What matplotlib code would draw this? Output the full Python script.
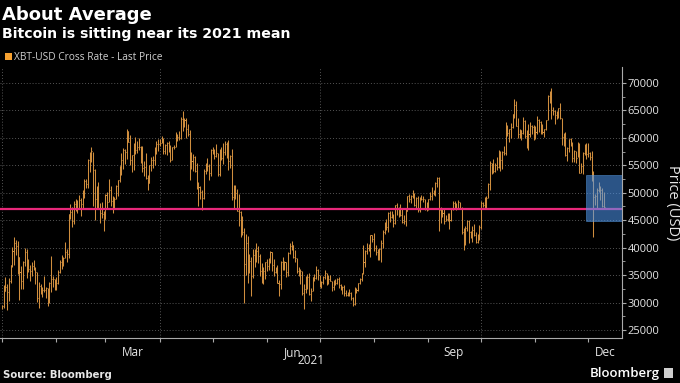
import numpy as np
import matplotlib
matplotlib.use("Agg")
import matplotlib.pyplot as plt
from matplotlib.patches import Rectangle

# XBT-USD daily bars, 1 Jan 2021 .. 10 Dec 2021, values in thousands of USD
close_k = [
    # Jan
    29.37, 32.13, 32.78, 31.97, 33.99, 36.82, 39.37, 40.80, 40.25, 38.36, 35.57, 33.92, 37.32, 39.19, 36.83, 36.18,
    35.79, 36.63, 36.07, 35.55, 30.83, 33.01, 32.07, 32.29, 32.37, 32.57, 30.43, 33.47, 34.32, 34.27, 33.12,
    # Feb
    33.54, 35.51, 37.47, 36.93, 38.14, 39.27, 38.90, 46.20, 46.48, 44.92, 47.91, 47.50, 47.11, 48.72, 47.95, 49.20,
    52.15, 51.68, 55.89, 56.10, 57.54, 54.21, 48.82, 49.71, 47.09, 46.34, 46.19, 45.14,
    # Mar
    49.63, 48.38, 50.54, 48.56, 48.93, 48.91, 51.21, 52.25, 54.82, 56.01, 57.81, 57.33, 61.24, 59.30, 55.91, 56.80,
    58.87, 57.86, 58.35, 58.31, 57.52, 54.53, 54.74, 52.77, 51.70, 55.14, 55.97, 55.95, 57.75, 58.92, 58.92,
    # Apr
    59.10, 59.38, 57.60, 58.76, 59.06, 58.19, 56.05, 58.32, 58.25, 59.79, 60.20, 59.89, 63.50, 63.11, 63.31, 61.57,
    60.68, 56.22, 55.72, 56.47, 53.91, 51.76, 51.09, 50.05, 49.00, 54.02, 55.03, 54.82, 53.56, 57.75,
    # May
    57.83, 56.63, 57.20, 53.33, 57.42, 56.40, 57.36, 58.80, 58.23, 55.86, 56.70, 49.15, 49.72, 49.88, 46.76, 46.46,
    43.54, 42.91, 37.00, 40.78, 37.30, 37.54, 34.77, 38.71, 38.40, 39.30, 38.44, 35.70, 34.62, 35.68, 37.33,
    # Jun
    36.68, 37.58, 39.19, 36.85, 35.52, 35.80, 33.55, 33.40, 37.35, 36.70, 37.33, 35.55, 39.10, 40.22, 40.41, 38.35,
    38.05, 35.79, 35.62, 35.70, 31.68, 32.51, 33.72, 34.66, 31.64, 32.19, 34.65, 34.50, 35.91, 35.05,
    # Jul
    33.50, 33.79, 34.67, 35.29, 33.75, 34.24, 33.86, 32.88, 33.80, 33.52, 34.24, 33.16, 32.70, 32.82, 31.78, 31.42,
    31.53, 31.80, 30.82, 29.81, 32.11, 32.31, 33.58, 34.29, 35.35, 37.34, 39.41, 40.00, 40.01, 42.24, 41.63,
    # Aug
    39.97, 39.20, 38.15, 39.75, 40.87, 42.82, 44.56, 43.80, 46.37, 45.59, 45.59, 44.43, 47.79, 47.10, 47.05, 46.00,
    44.70, 44.80, 46.72, 49.34, 48.91, 49.32, 49.55, 47.71, 48.96, 46.94, 49.06, 48.90, 48.83, 47.05, 47.17,
    # Sep
    48.85, 49.33, 50.03, 49.94, 51.75, 52.63, 46.81, 46.09, 46.39, 44.88, 45.20, 46.06, 44.96, 47.09, 48.18, 47.78,
    47.27, 48.28, 47.26, 42.84, 40.69, 43.57, 44.90, 42.84, 42.72, 43.21, 42.24, 41.03, 41.56, 43.79,
    # Oct
    48.12, 47.71, 48.20, 49.11, 51.51, 55.36, 53.81, 53.97, 54.97, 54.77, 57.48, 56.04, 57.40, 57.32, 61.59, 60.89,
    61.55, 62.03, 64.26, 65.99, 62.21, 60.69, 61.39, 60.93, 63.04, 60.36, 58.48, 60.62, 62.23, 61.89, 61.32,
    # Nov
    61.00, 63.23, 62.97, 61.45, 61.13, 61.53, 63.33, 67.57, 66.97, 65.00, 64.95, 64.16, 64.47, 65.47, 63.56, 60.16,
    60.37, 56.94, 58.12, 59.70, 58.73, 56.29, 57.57, 56.28, 57.27, 53.57, 54.82, 57.25, 57.81, 57.00,
    # Dec
    57.23, 56.48, 53.60, 49.25, 49.37, 50.58, 50.70, 50.50, 47.67, 47.40,
]

high_k = [
    29.60, 33.16, 34.61, 33.44, 34.44, 36.88, 40.18, 41.95, 41.37, 41.29, 38.26, 36.57, 37.60, 40.00, 39.70, 37.89,
    36.79, 37.30, 37.76, 36.42, 35.55, 33.78, 33.41, 32.90, 34.80, 32.79, 32.56, 33.78, 38.41, 34.83, 34.29,
    34.64, 35.87, 37.66, 38.59, 38.31, 40.96, 39.70, 46.20, 48.00, 47.33, 48.43, 48.90, 48.70, 49.64, 49.00, 50.51,
    52.53, 52.47, 56.18, 57.49, 58.35, 57.49, 54.25, 51.31, 51.91, 48.09, 48.24, 46.62,
    49.78, 50.13, 52.54, 51.27, 49.43, 49.18, 51.38, 52.36, 54.90, 57.26, 58.06, 58.00, 61.68, 61.24, 60.48, 56.91,
    58.98, 60.07, 59.47, 59.88, 58.60, 58.42, 55.80, 57.15, 53.30, 55.14, 56.57, 56.61, 58.40, 59.35, 59.70,
    59.77, 60.26, 59.90, 58.92, 59.26, 59.43, 58.63, 58.36, 58.72, 61.03, 60.64, 61.19, 63.77, 64.86, 63.67, 63.56,
    62.57, 61.39, 57.50, 57.01, 56.71, 55.40, 51.90, 51.17, 50.54, 54.36, 55.39, 56.36, 55.18, 57.88,
    58.40, 57.90, 58.93, 57.20, 57.90, 58.33, 59.00, 59.46, 59.21, 59.55, 56.90, 57.94, 51.33, 51.44, 50.69, 49.79,
    46.66, 45.80, 43.55, 42.46, 42.17, 38.83, 38.27, 39.84, 39.74, 40.78, 40.38, 38.86, 37.24, 36.40, 37.47,
    37.86, 38.19, 39.41, 39.23, 37.87, 36.44, 36.75, 34.02, 37.53, 38.31, 37.63, 37.38, 39.23, 40.93, 41.28, 40.48,
    39.48, 38.19, 36.42, 36.06, 35.70, 33.30, 34.76, 35.25, 35.46, 32.62, 34.70, 35.25, 36.60, 36.07,
    35.05, 33.94, 34.92, 35.91, 35.29, 35.02, 35.03, 33.90, 34.04, 34.22, 34.54, 34.57, 33.32, 33.07, 33.16, 32.23,
    31.93, 32.43, 31.86, 31.05, 32.79, 32.57, 33.58, 34.49, 35.40, 40.55, 39.51, 40.87, 40.61, 42.29, 42.38,
    42.60, 40.40, 39.78, 39.95, 41.40, 43.27, 44.70, 45.30, 46.46, 46.64, 46.74, 46.19, 47.80, 48.09, 47.32, 47.97,
    47.09, 46.00, 47.02, 49.35, 49.74, 49.51, 50.48, 49.86, 49.24, 49.34, 49.15, 49.63, 49.33, 48.88, 48.30,
    48.85, 50.20, 51.03, 50.52, 51.88, 52.85, 52.92, 47.34, 47.29, 47.05, 45.88, 46.30, 46.38, 47.22, 48.45, 48.45,
    48.12, 48.75, 48.33, 47.33, 43.60, 44.01, 44.97, 45.05, 42.98, 43.92, 44.35, 42.79, 42.55, 44.10,
    48.44, 48.33, 49.17, 49.46, 51.84, 55.71, 55.39, 56.12, 55.46, 56.52, 57.80, 57.60, 57.62, 58.48, 62.88, 62.30,
    61.59, 62.65, 64.43, 67.02, 66.64, 63.67, 61.56, 61.49, 63.71, 63.29, 61.45, 62.45, 62.92, 62.27, 62.40,
    62.21, 64.06, 63.42, 63.03, 62.45, 61.55, 63.33, 67.75, 68.53, 69.00, 65.57, 65.00, 64.91, 65.47, 66.28, 63.56,
    60.80, 60.98, 58.33, 59.80, 60.00, 59.26, 57.87, 57.60, 59.25, 59.06, 55.35, 57.38, 58.84, 59.12,
    59.05, 57.37, 57.60, 53.88, 49.70, 50.93, 51.94, 51.14, 50.78, 50.10,
]

low_k = [
    28.80, 29.09, 32.05, 28.72, 30.22, 33.51, 36.49, 36.83, 38.65, 35.12, 30.42, 32.53, 32.38, 36.70, 34.41, 35.50,
    33.85, 34.80, 35.90, 33.41, 30.07, 28.95, 31.47, 31.00, 31.97, 30.84, 29.28, 29.85, 31.99, 32.84, 32.34,
    32.30, 33.42, 35.40, 36.16, 36.62, 38.14, 37.45, 38.10, 45.17, 43.73, 44.39, 46.74, 46.26, 47.05, 45.79, 47.18,
    48.97, 50.82, 50.88, 53.86, 55.62, 47.61, 45.00, 47.13, 47.09, 44.45, 45.33, 43.02,
    45.14, 47.25, 48.30, 47.53, 46.30, 47.17, 48.92, 49.36, 51.89, 53.29, 54.29, 55.15, 56.18, 59.15, 55.00, 53.82,
    54.16, 57.10, 57.20, 57.83, 55.50, 53.75, 53.00, 52.56, 50.43, 51.71, 53.98, 54.50, 55.01, 57.13, 57.61,
    58.43, 58.97, 57.11, 57.06, 56.79, 57.49, 55.62, 55.96, 57.98, 58.26, 59.42, 59.60, 59.87, 61.30, 62.04, 60.00,
    60.30, 52.23, 54.28, 54.00, 53.81, 50.61, 47.50, 48.80, 46.93, 48.80, 53.32, 53.96, 52.40, 53.05,
    57.06, 56.06, 56.48, 53.08, 52.97, 55.87, 55.28, 56.94, 56.25, 54.05, 54.42, 48.64, 46.98, 48.91, 46.64, 43.95,
    42.00, 42.30, 30.00, 35.05, 33.49, 35.38, 31.19, 34.55, 36.53, 37.35, 37.25, 34.78, 33.63, 33.42, 34.21,
    35.73, 35.97, 37.19, 35.68, 34.86, 35.30, 33.48, 31.11, 32.43, 35.87, 35.96, 34.63, 34.86, 38.79, 39.57, 38.16,
    37.44, 35.29, 34.86, 33.44, 31.30, 28.80, 31.74, 32.44, 31.30, 30.20, 32.10, 33.89, 34.27, 34.05,
    32.75, 32.73, 33.36, 34.34, 33.20, 33.42, 33.85, 32.19, 32.30, 33.12, 33.38, 32.67, 32.26, 31.63, 31.22, 31.10,
    31.27, 31.20, 30.45, 29.30, 29.52, 31.79, 32.06, 33.43, 33.89, 35.21, 36.43, 38.81, 39.30, 38.32, 41.09,
    39.43, 38.70, 37.66, 37.71, 37.46, 39.87, 42.47, 43.29, 42.85, 44.74, 45.36, 43.80, 44.26, 45.98, 45.54, 45.72,
    44.48, 44.22, 43.97, 46.68, 48.33, 48.12, 49.07, 47.65, 47.21, 46.43, 46.43, 48.61, 48.31, 46.94, 46.73,
    46.91, 48.75, 48.76, 49.55, 49.48, 51.12, 43.00, 44.51, 45.64, 44.28, 44.78, 44.82, 43.47, 44.78, 46.80, 47.09,
    46.79, 47.09, 47.07, 42.53, 39.60, 40.57, 43.12, 40.85, 41.68, 40.94, 42.10, 40.90, 40.80, 41.44,
    43.32, 47.45, 47.16, 46.98, 49.08, 50.45, 53.34, 53.68, 53.74, 54.20, 54.42, 53.92, 54.27, 56.89, 56.90, 60.34,
    59.17, 59.90, 61.74, 63.56, 62.12, 60.04, 59.98, 59.60, 60.68, 59.89, 58.06, 57.86, 60.24, 60.76, 59.58,
    59.84, 60.75, 61.04, 60.76, 60.76, 60.08, 61.38, 63.16, 66.38, 63.35, 64.10, 62.48, 63.34, 63.63, 63.45, 58.70,
    58.44, 56.67, 55.78, 57.50, 58.52, 55.68, 55.62, 55.50, 56.50, 53.51, 53.63, 53.36, 56.81, 56.15,
    56.48, 55.98, 52.05, 42.00, 47.73, 47.10, 50.08, 48.64, 47.35, 47.00,
]

mean_2021 = 47100          # 2021 average, magenta line
box_lo, box_hi = 44860, 53250   # highlighted recent range
box_start_day = 332.8

month_starts = [0, 31, 59, 90, 120, 151, 181, 212, 243, 273, 304, 334]
quarter_starts = [0, 90, 181, 273]
month_labels = ["Mar", "Jun", "Sep"]
month_label_days = [74.5, 165.5, 257.5]

BG = "black"
BAR = "#cf8e3e"
W, H = 680, 383

fig = plt.figure(figsize=(6.8, 3.83), dpi=100, facecolor=BG)
ax = fig.add_axes([0, 1 - 338 / H, 622 / W, (338 - 67) / H])
ax.set_facecolor(BG)

days = np.arange(len(close_k))
close = np.array(close_k) * 1000
high = np.array(high_k) * 1000
low = np.array(low_k) * 1000

xmax = 353.3
ax.set_xlim(-1.1, xmax)
ax.set_ylim(23540, 72900)

# grid
for y in range(25000, 72000, 5000):
    ax.axhline(y, color="#555555", lw=0.7, ls=(0, (1, 2)), zorder=0)
for d in quarter_starts:
    ax.axvline(d, color="#555555", lw=0.7, ls=(0, (1, 2)), zorder=0)

# OHLC-style bars
ax.vlines(days, low, high, color=BAR, lw=0.75, zorder=2)
ax.hlines(close, days, days + 0.6, color=BAR, lw=0.75, zorder=2)

ax.axhline(mean_2021, color="#e8287a", lw=1.6, zorder=3)

ax.add_patch(Rectangle((box_start_day, box_lo), xmax - box_start_day, box_hi - box_lo,
                       facecolor="#4f9af5", alpha=0.55, edgecolor="#5a9ee8", lw=0.6, zorder=4))

# axes styling
for s in ["top", "left"]:
    ax.spines[s].set_visible(False)
ax.spines["bottom"].set_color("#aaaaaa")
ax.spines["right"].set_color("#aaaaaa")
ax.yaxis.tick_right()
ax.set_yticks(range(25000, 72000, 5000))
ax.set_yticks(range(25000, 72500, 2500), minor=True)
ax.tick_params(axis="y", which="major", colors="#aaaaaa", length=3, labelcolor="#e6e6e6",
               labelsize=8, pad=1)
ax.tick_params(axis="y", which="minor", colors="#aaaaaa", length=2)
for t in ax.get_yticklabels():
    t.set_family("Open Sans")

ax.set_xticks(month_starts)
ax.set_xticklabels([])
ax.tick_params(axis="x", colors="#aaaaaa", length=3)

tr = ax.get_xaxis_transform()
for lab, d in zip(month_labels, month_label_days):
    ax.text(d, -0.03, lab, transform=tr, ha="center", va="top", color="#e6e6e6",
            fontsize=8.5, family="Open Sans")
ax.text((334 + xmax) / 2, -0.03, "Dec", transform=tr, ha="center", va="top", color="#e6e6e6",
        fontsize=8.5, family="Open Sans")
fig.text(311 / W, 1 - 361 / H, "2021", ha="center", va="center", color="#e6e6e6",
         fontsize=8.5, family="Open Sans")

fig.text(672 / W, 1 - 203 / H, "Price (USD)", rotation=270, ha="center", va="center",
         color="#e6e6e6", fontsize=10.5, family="Open Sans")

# titles
fig.text(2 / W, 1 - 15 / H, "About Average", ha="left", va="center", color="white",
         fontsize=13, fontweight="bold", family="DejaVu Sans")
fig.text(2 / W, 1 - 34 / H, "Bitcoin is sitting near its 2021 mean", ha="left", va="center",
         color="white", fontsize=10.2, fontweight="bold", family="DejaVu Sans")
fig.patches.append(Rectangle((5 / W, 1 - 60 / H), 7 / W, 7 / H, transform=fig.transFigure,
                             facecolor="#f5a030", edgecolor="none"))
fig.text(14 / W, 1 - 57 / H, "XBT-USD Cross Rate - Last Price", ha="left", va="center",
         color="#d0d0d0", fontsize=7.3, family="Open Sans")

fig.text(3 / W, 1 - 375 / H, "Source: Bloomberg", ha="left", va="center", color="#e6e6e6",
         fontsize=7.3, fontweight="bold", family="DejaVu Sans")
fig.text(660 / W, 1 - 373 / H, "Bloomberg", ha="right", va="center", color="white",
         fontsize=9.5, fontweight="semibold", family="Open Sans")
fig.patches.append(Rectangle((664 / W, 1 - 378 / H), 9 / W, 10 / H, transform=fig.transFigure,
                             facecolor="#cfcfcf", edgecolor="none"))

fig.savefig("out.png", dpi=100, facecolor=BG)
